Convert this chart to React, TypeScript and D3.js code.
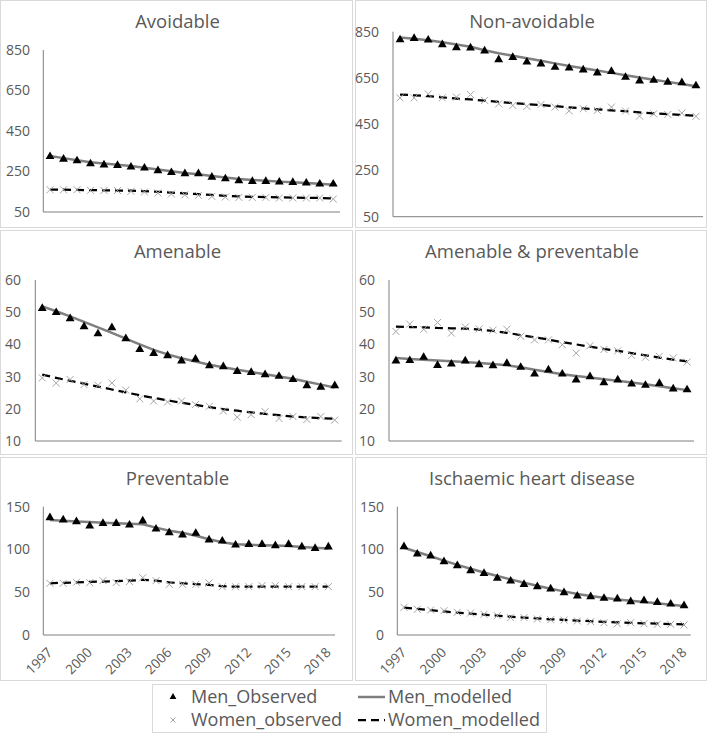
import React from "react";
import * as d3 from "d3";

const years = [1997, 1998, 1999, 2000, 2001, 2002, 2003, 2004, 2005, 2006, 2007, 2008, 2009, 2010, 2011, 2012, 2013, 2014, 2015, 2016, 2017, 2018];
const yearLabels = ["1997", "2000", "2003", "2006", "2009", "2012", "2015", "2018"];

const titles = ["Avoidable", "Non-avoidable", "Amenable", "Amenable & preventable", "Preventable", "Ischaemic heart disease"];
const legendLabels = ["Men_Observed", "Women_observed", "Men_modelled", "Women_modelled"];

const avoidableMenObs = [324, 311, 303, 288, 283, 280, 272, 267, 254, 245, 239, 239, 222, 214, 204, 201, 201, 198, 196, 193, 188, 188];
const avoidableMenMod = [326, 316, 306, 296, 289, 283, 277, 269, 260, 251, 243, 236, 228, 220, 213, 208, 204, 200, 197, 193, 189, 185];
const avoidableWomenObs = [160, 160, 160, 157, 156, 156, 152, 149, 144, 139, 135, 132, 127, 124, 122, 122, 122, 119, 119, 119, 119, 114];
const avoidableWomenMod = [160, 160, 159, 158, 157, 156, 155, 153, 150, 146, 142, 138, 134, 130, 127, 125, 124, 122, 121, 120, 119, 117];

const nonAvoidableMenObs = [815, 821, 814, 794, 781, 780, 767, 729, 739, 719, 711, 696, 693, 685, 672, 678, 653, 637, 640, 632, 630, 616];
const nonAvoidableMenMod = [825, 820, 813, 804, 795, 785, 770, 757, 746, 735, 724, 713, 702, 692, 682, 672, 662, 652, 642, 633, 624, 614];
const nonAvoidableWomenObs = [564, 564, 581, 564, 567, 578, 553, 538, 531, 527, 535, 524, 508, 517, 510, 524, 507, 485, 495, 492, 498, 484];
const nonAvoidableWomenMod = [578, 575, 571, 566, 561, 557, 552, 547, 541, 537, 533, 528, 523, 518, 514, 510, 506, 501, 497, 494, 490, 487];

const amenableMenObs = [51.2, 49.9, 48.0, 45.5, 43.3, 45.2, 41.8, 38.4, 37.2, 36.5, 34.9, 35.4, 33.4, 33.1, 31.6, 31.3, 30.6, 30.1, 29.1, 27.2, 26.7, 27.2];
const amenableMenMod = [51.8, 50.3, 48.7, 47.0, 45.3, 43.6, 41.8, 40.0, 38.3, 36.9, 35.7, 34.7, 33.7, 32.9, 32.1, 31.4, 30.7, 30.0, 29.3, 28.4, 27.5, 26.6];
const amenableWomenObs = [29.6, 28.0, 29.1, 27.5, 27.3, 28.0, 25.8, 23.1, 22.4, 22.1, 22.4, 21.3, 20.8, 19.3, 17.4, 18.2, 19.1, 17.0, 17.6, 16.7, 17.6, 16.5];
const amenableWomenMod = [30.6, 29.6, 28.7, 27.8, 26.9, 26.0, 25.1, 24.2, 23.4, 22.6, 21.9, 21.2, 20.5, 19.9, 19.4, 18.9, 18.4, 18.0, 17.6, 17.3, 17.1, 16.9];

const amenPrevMenObs = [34.9, 35.0, 36.0, 33.5, 33.9, 34.9, 33.7, 33.4, 34.1, 32.9, 30.8, 32.1, 30.8, 29.0, 30.0, 28.1, 29.0, 27.7, 27.3, 27.9, 26.2, 25.9];
const amenPrevMenMod = [35.8, 35.5, 35.2, 35.0, 34.8, 34.5, 34.2, 33.9, 33.5, 32.9, 32.1, 31.4, 30.7, 30.2, 29.7, 29.2, 28.7, 28.2, 27.6, 27.0, 26.4, 25.8];
const amenPrevWomenObs = [44.0, 46.3, 44.7, 46.8, 43.5, 45.4, 44.8, 44.4, 44.7, 42.5, 41.4, 41.4, 39.9, 37.3, 39.6, 38.4, 38.0, 36.6, 36.0, 36.3, 35.8, 34.5];
const amenPrevWomenMod = [45.5, 45.4, 45.3, 45.1, 45.0, 44.9, 44.6, 44.2, 43.6, 42.9, 42.2, 41.5, 40.7, 40.0, 39.3, 38.6, 38.0, 37.3, 36.6, 35.9, 35.3, 34.7];

const preventableMenObs = [137.2, 134.5, 132.5, 127.4, 130.5, 130.5, 128.6, 133.3, 123.9, 119.6, 116.9, 118.9, 111.1, 109.9, 105.2, 106.0, 106.0, 104.4, 106.0, 102.9, 101.3, 102.9];
const preventableMenMod = [134.5, 133.5, 132.8, 132.0, 131.3, 130.6, 130.0, 129.5, 125.5, 122.0, 119.5, 116.0, 112.0, 108.5, 106.2, 105.5, 105.0, 104.5, 104.0, 103.0, 102.0, 101.0];
const preventableWomenObs = [60.4, 60.4, 61.6, 61.2, 63.5, 61.2, 62.4, 67.0, 63.5, 59.2, 59.2, 59.2, 60.8, 56.5, 56.5, 56.5, 57.7, 57.7, 56.5, 56.5, 56.5, 56.5];
const preventableWomenMod = [60.5, 61.0, 61.5, 62.0, 62.5, 63.0, 63.5, 64.5, 63.5, 61.5, 60.5, 59.5, 58.5, 57.0, 56.5, 56.5, 56.5, 56.5, 56.5, 56.5, 56.5, 56.5];

const ihdMenObs = [103.3, 94.7, 92.4, 85.7, 81.1, 75.2, 72.1, 66.3, 63.1, 59.2, 56.5, 53.8, 49.5, 45.6, 44.8, 42.9, 42.1, 39.0, 40.1, 38.2, 36.2, 34.3];
const ihdMenMod = [102, 97, 92, 87, 82, 77.5, 73, 69, 65, 61, 57.5, 54, 51, 48, 45.5, 43.5, 41.5, 40, 38.5, 37, 35.5, 34];
const ihdWomenObs = [32.3, 30.0, 29.2, 28.4, 26.5, 25.7, 24.2, 22.6, 20.3, 20.3, 18.7, 17.9, 17.5, 16.4, 15.6, 14.4, 13.2, 14.4, 13.2, 12.5, 12.5, 11.7];
const ihdWomenMod = [32, 30.5, 29, 27.5, 26.2, 25, 23.8, 22.6, 21.4, 20.3, 19.3, 18.4, 17.6, 16.8, 16.1, 15.4, 14.8, 14.2, 13.7, 13.2, 12.8, 12.4];

const ticksLarge = [50, 250, 450, 650, 850];
const ticksSmall = [10, 20, 30, 40, 50, 60];
const ticksMid = [0, 50, 100, 150];

const FONT = "'Open Sans', sans-serif";
const TEXT = "#595959";
const BORDER = "#d9d9d9";
const AXIS = "#7f7f7f";
const MEN_LINE = "#7f7f7f";
const CROSS = "#a6a6a6";

type Layout = { x: number; y: number; w: number; h: number; l: number; t: number; r: number; b: number; lab: number; xLabels: boolean };

const layouts: Layout[] = [
  { x: 0, y: 0, w: 353, h: 228, l: 43.3, t: 50, r: 340, b: 212, lab: 30, xLabels: false },
  { x: 355, y: 0, w: 352, h: 228, l: 38, t: 31.7, r: 348, b: 216.7, lab: 24, xLabels: false },
  { x: 0, y: 230, w: 353, h: 225, l: 35.3, t: 50, r: 341.7, b: 211, lab: 21, xLabels: false },
  { x: 355, y: 230, w: 352, h: 225, l: 34, t: 50, r: 339, b: 211, lab: 20, xLabels: false },
  { x: 0, y: 457, w: 353, h: 224, l: 43.3, t: 49.7, r: 335, b: 178, lab: 30, xLabels: true },
  { x: 355, y: 457, w: 352, h: 224, l: 42.3, t: 49.7, r: 335.7, b: 178, lab: 29, xLabels: true },
];

const panelData = [
  { ticks: ticksLarge, menObs: avoidableMenObs, menMod: avoidableMenMod, womenObs: avoidableWomenObs, womenMod: avoidableWomenMod },
  { ticks: ticksLarge, menObs: nonAvoidableMenObs, menMod: nonAvoidableMenMod, womenObs: nonAvoidableWomenObs, womenMod: nonAvoidableWomenMod },
  { ticks: ticksSmall, menObs: amenableMenObs, menMod: amenableMenMod, womenObs: amenableWomenObs, womenMod: amenableWomenMod },
  { ticks: ticksSmall, menObs: amenPrevMenObs, menMod: amenPrevMenMod, womenObs: amenPrevWomenObs, womenMod: amenPrevWomenMod },
  { ticks: ticksMid, menObs: preventableMenObs, menMod: preventableMenMod, womenObs: preventableWomenObs, womenMod: preventableWomenMod },
  { ticks: ticksMid, menObs: ihdMenObs, menMod: ihdMenMod, womenObs: ihdWomenObs, womenMod: ihdWomenMod },
];

const triPath = d3.symbol(d3.symbolTriangle, 34)() as string;
const triPathSmall = d3.symbol(d3.symbolTriangle, 20)() as string;
const crossPath = "M-3.5,-3.5L3.5,3.5M-3.5,3.5L3.5,-3.5";
const crossPathSmall = "M-2.5,-2.5L2.5,2.5M-2.5,2.5L2.5,-2.5";

function Panel({ lay, data, title }: { lay: Layout; data: typeof panelData[0]; title: string }) {
  const xs = d3.scaleBand<number>().domain(years).range([lay.l, lay.r]).padding(0);
  const cx = (yr: number) => (xs(yr) as number) + xs.bandwidth() / 2;
  const ext = d3.extent(data.ticks) as [number, number];
  const ys = d3.scaleLinear().domain(ext).range([lay.b, lay.t]);
  const line = d3.line<number>().x((_, i) => cx(years[i])).y((v) => ys(v));
  return (
    <g transform={`translate(${lay.x},${lay.y})`}>
      <rect x={0.5} y={0.5} width={lay.w - 1} height={lay.h - 1} fill="#fff" stroke={BORDER} />
      <text x={lay.w / 2 + 1} y={28} textAnchor="middle" fontSize={18.5} fill={TEXT} fontFamily={FONT}>{title}</text>
      {data.ticks.map((t) => (
        <text key={t} x={lay.lab} y={ys(t)} dy="0.35em" textAnchor="end" fontSize={14} fill={TEXT} fontFamily={FONT}>{t}</text>
      ))}
      <line x1={lay.l} x2={lay.l} y1={lay.t} y2={lay.b} stroke={AXIS} strokeWidth={1} />
      <line x1={lay.l} x2={lay.r} y1={lay.b} y2={lay.b} stroke={AXIS} strokeWidth={1} />
      {lay.xLabels && yearLabels.map((lbl) => {
        const px = cx(+lbl);
        const py = lay.b + 15;
        return (
          <text key={lbl} x={px} y={py} transform={`rotate(-45,${px},${py})`} textAnchor="end" dy="0.35em" fontSize={13.5} fill={TEXT} fontFamily={FONT}>{lbl}</text>
        );
      })}
      <path d={line(data.menMod) as string} fill="none" stroke={MEN_LINE} strokeWidth={2.5} />
      <path d={line(data.womenMod) as string} fill="none" stroke="#000" strokeWidth={2.25} strokeDasharray="8,5" />
      {data.womenObs.map((v, i) => (
        <path key={"w" + i} d={crossPath} transform={`translate(${cx(years[i])},${ys(v)})`} fill="none" stroke={CROSS} strokeWidth={1} />
      ))}
      {data.menObs.map((v, i) => (
        <path key={"m" + i} d={triPath} transform={`translate(${cx(years[i])},${ys(v)})`} fill="#000" />
      ))}
    </g>
  );
}

export default function App() {
  return (
    <div style={{ position: "absolute", left: 0, top: 0 }}>
      <svg width={709} height={734} style={{ display: "block", background: "#fff" }}>
        <rect x={0} y={0} width={709} height={734} fill="#fff" />
        {layouts.map((lay, i) => (
          <Panel key={i} lay={lay} data={panelData[i]} title={titles[i]} />
        ))}
        <g>
          <rect x={152.5} y={684.5} width={394} height={48} fill="#fff" stroke={BORDER} />
          <path d={triPathSmall} transform="translate(173,697)" fill="#000" />
          <text x={191} y={697} dy="0.35em" fontSize={18} fill={TEXT} fontFamily={FONT}>{legendLabels[0]}</text>
          <path d={crossPathSmall} transform="translate(173,720)" fill="none" stroke={CROSS} strokeWidth={1} />
          <text x={191} y={720} dy="0.35em" fontSize={18} fill={TEXT} fontFamily={FONT}>{legendLabels[1]}</text>
          <line x1={358} x2={385} y1={697} y2={697} stroke={MEN_LINE} strokeWidth={2.5} />
          <text x={388} y={697} dy="0.35em" fontSize={18} fill={TEXT} fontFamily={FONT}>{legendLabels[2]}</text>
          <line x1={358} x2={385} y1={720} y2={720} stroke="#000" strokeWidth={2.25} strokeDasharray="8,5" />
          <text x={388} y={720} dy="0.35em" fontSize={18} fill={TEXT} fontFamily={FONT}>{legendLabels[3]}</text>
        </g>
      </svg>
    </div>
  );
}
